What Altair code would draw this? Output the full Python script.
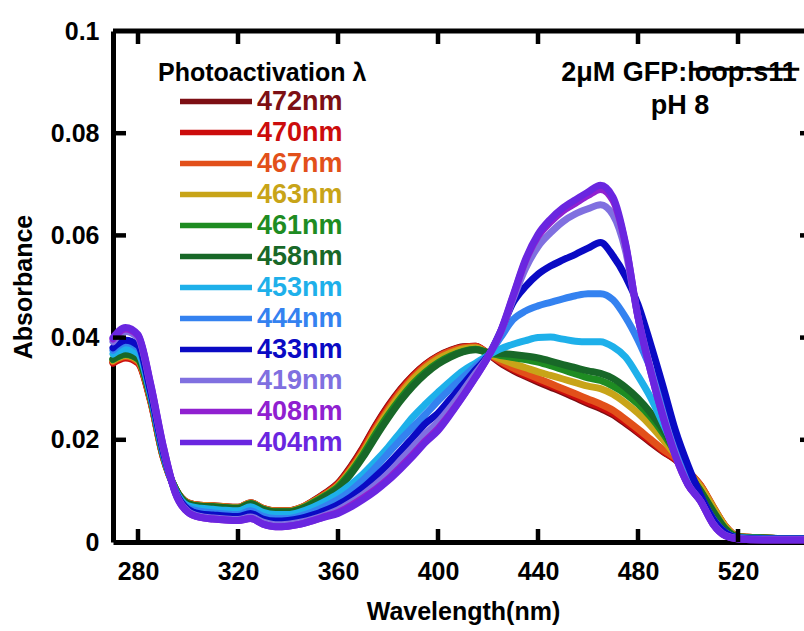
import altair as alt
import pandas as pd

# ---------------- data ----------------
wavelengths = [270, 275, 280, 285, 290, 295, 300, 305, 310, 315,
               320, 325, 330, 335, 340, 345, 350, 355, 360, 365,
               370, 375, 380, 385, 390, 395, 400, 405, 410, 415,
               420, 425, 430, 435, 440, 445, 450, 455, 460, 465,
               470, 475, 480, 485, 490, 495, 500, 505, 510, 515,
               520, 530, 540, 550]

a472 = [0.0352, 0.0362, 0.0352, 0.0278, 0.0168, 0.0104, 0.0077, 0.0072, 0.0071, 0.0069,
        0.0068, 0.0077, 0.0066, 0.0061, 0.0061, 0.0067, 0.0080, 0.0096, 0.0115, 0.0147,
        0.0185, 0.0228, 0.0266, 0.0299, 0.0326, 0.0348, 0.0364, 0.0375, 0.0382, 0.0383,
        0.0368, 0.0350, 0.0336, 0.0324, 0.0313, 0.0303, 0.0293, 0.0282, 0.0271, 0.0261,
        0.0249, 0.0232, 0.0214, 0.0195, 0.0177, 0.0161, 0.0137, 0.0110, 0.0068, 0.0030,
        0.0011, 0.0008, 0.0007, 0.0007]
a470 = [0.0350, 0.0360, 0.0350, 0.0276, 0.0167, 0.0103, 0.0076, 0.0071, 0.0070, 0.0068,
        0.0067, 0.0076, 0.0065, 0.0060, 0.0060, 0.0066, 0.0079, 0.0095, 0.0114, 0.0145,
        0.0183, 0.0226, 0.0264, 0.0297, 0.0325, 0.0347, 0.0363, 0.0374, 0.0381, 0.0383,
        0.0369, 0.0352, 0.0338, 0.0326, 0.0316, 0.0306, 0.0296, 0.0285, 0.0274, 0.0264,
        0.0252, 0.0235, 0.0216, 0.0197, 0.0178, 0.0162, 0.0138, 0.0111, 0.0069, 0.0031,
        0.0011, 0.0008, 0.0007, 0.0007]
a467 = [0.0353, 0.0363, 0.0353, 0.0279, 0.0169, 0.0104, 0.0077, 0.0072, 0.0071, 0.0069,
        0.0068, 0.0077, 0.0066, 0.0061, 0.0061, 0.0067, 0.0079, 0.0094, 0.0112, 0.0142,
        0.0179, 0.0222, 0.0260, 0.0294, 0.0322, 0.0345, 0.0362, 0.0373, 0.0380, 0.0382,
        0.0369, 0.0354, 0.0341, 0.0330, 0.0320, 0.0310, 0.0300, 0.0290, 0.0280, 0.0270,
        0.0258, 0.0240, 0.0221, 0.0201, 0.0181, 0.0164, 0.0139, 0.0111, 0.0070, 0.0031,
        0.0011, 0.0008, 0.0007, 0.0007]
a463 = [0.0355, 0.0365, 0.0356, 0.0281, 0.0170, 0.0104, 0.0076, 0.0071, 0.0070, 0.0068,
        0.0067, 0.0076, 0.0065, 0.0060, 0.0060, 0.0066, 0.0078, 0.0092, 0.0110, 0.0139,
        0.0175, 0.0217, 0.0255, 0.0289, 0.0318, 0.0341, 0.0358, 0.0370, 0.0378, 0.0380,
        0.0369, 0.0358, 0.0349, 0.0341, 0.0333, 0.0326, 0.0319, 0.0312, 0.0305, 0.0300,
        0.0289, 0.0272, 0.0252, 0.0228, 0.0200, 0.0170, 0.0138, 0.0108, 0.0068, 0.0030,
        0.0011, 0.0008, 0.0007, 0.0007]
a461 = [0.0357, 0.0367, 0.0358, 0.0283, 0.0171, 0.0104, 0.0075, 0.0070, 0.0069, 0.0067,
        0.0066, 0.0075, 0.0064, 0.0059, 0.0059, 0.0065, 0.0077, 0.0091, 0.0108, 0.0136,
        0.0171, 0.0211, 0.0248, 0.0281, 0.0310, 0.0333, 0.0351, 0.0364, 0.0373, 0.0377,
        0.0370, 0.0365, 0.0361, 0.0357, 0.0352, 0.0345, 0.0337, 0.0329, 0.0321, 0.0316,
        0.0305, 0.0290, 0.0270, 0.0245, 0.0213, 0.0175, 0.0135, 0.0100, 0.0061, 0.0026,
        0.0010, 0.0008, 0.0007, 0.0007]
a458 = [0.0358, 0.0368, 0.0359, 0.0284, 0.0172, 0.0104, 0.0075, 0.0070, 0.0069, 0.0067,
        0.0066, 0.0075, 0.0064, 0.0059, 0.0059, 0.0064, 0.0075, 0.0089, 0.0105, 0.0132,
        0.0166, 0.0205, 0.0242, 0.0276, 0.0305, 0.0329, 0.0348, 0.0362, 0.0372, 0.0376,
        0.0371, 0.0369, 0.0367, 0.0364, 0.0360, 0.0354, 0.0347, 0.0341, 0.0335, 0.0330,
        0.0320, 0.0303, 0.0281, 0.0253, 0.0220, 0.0178, 0.0137, 0.0100, 0.0060, 0.0025,
        0.0010, 0.0008, 0.0007, 0.0007]
a453 = [0.0368, 0.0378, 0.0369, 0.0288, 0.0174, 0.0101, 0.0071, 0.0066, 0.0064, 0.0062,
        0.0061, 0.0069, 0.0058, 0.0054, 0.0054, 0.0059, 0.0068, 0.0080, 0.0094, 0.0112,
        0.0133, 0.0158, 0.0185, 0.0215, 0.0245, 0.0270, 0.0293, 0.0315, 0.0335, 0.0350,
        0.0365, 0.0378, 0.0387, 0.0394, 0.0400, 0.0401, 0.0397, 0.0393, 0.0392, 0.0392,
        0.0382, 0.0362, 0.0325, 0.0283, 0.0232, 0.0178, 0.0128, 0.0085, 0.0045, 0.0018,
        0.0009, 0.0007, 0.0006, 0.0006]
a444 = [0.0375, 0.0390, 0.0380, 0.0292, 0.0177, 0.0099, 0.0067, 0.0060, 0.0057, 0.0055,
        0.0054, 0.0061, 0.0050, 0.0046, 0.0046, 0.0051, 0.0059, 0.0070, 0.0083, 0.0100,
        0.0121, 0.0146, 0.0173, 0.0200, 0.0225, 0.0250, 0.0276, 0.0300, 0.0322, 0.0344,
        0.0365, 0.0400, 0.0435, 0.0452, 0.0462, 0.0469, 0.0476, 0.0482, 0.0486, 0.0486,
        0.0474, 0.0440, 0.0395, 0.0340, 0.0278, 0.0205, 0.0140, 0.0090, 0.0045, 0.0018,
        0.0008, 0.0006, 0.0006, 0.0006]
a433 = [0.0380, 0.0395, 0.0385, 0.0295, 0.0179, 0.0098, 0.0064, 0.0055, 0.0053, 0.0051,
        0.0050, 0.0056, 0.0045, 0.0041, 0.0042, 0.0046, 0.0053, 0.0062, 0.0073, 0.0088,
        0.0106, 0.0128, 0.0152, 0.0178, 0.0205, 0.0232, 0.0252, 0.0280, 0.0308, 0.0337,
        0.0364, 0.0412, 0.0468, 0.0500, 0.0524, 0.0540, 0.0552, 0.0563, 0.0575, 0.0586,
        0.0560, 0.0520, 0.0465, 0.0388, 0.0305, 0.0218, 0.0150, 0.0092, 0.0045, 0.0018,
        0.0008, 0.0006, 0.0006, 0.0006]
a419 = [0.0392, 0.0412, 0.0400, 0.0306, 0.0186, 0.0096, 0.0060, 0.0050, 0.0047, 0.0045,
        0.0044, 0.0049, 0.0039, 0.0034, 0.0035, 0.0039, 0.0045, 0.0053, 0.0063, 0.0077,
        0.0093, 0.0112, 0.0134, 0.0160, 0.0186, 0.0212, 0.0235, 0.0264, 0.0296, 0.0330,
        0.0363, 0.0410, 0.0475, 0.0535, 0.0578, 0.0605, 0.0627, 0.0642, 0.0652, 0.0660,
        0.0640, 0.0570, 0.0440, 0.0340, 0.0250, 0.0172, 0.0113, 0.0080, 0.0036, 0.0013,
        0.0007, 0.0005, 0.0005, 0.0005]
a408 = [0.0397, 0.0417, 0.0404, 0.0309, 0.0189, 0.0095, 0.0058, 0.0048, 0.0045, 0.0043,
        0.0042, 0.0046, 0.0035, 0.0030, 0.0031, 0.0035, 0.0042, 0.0050, 0.0058, 0.0071,
        0.0086, 0.0103, 0.0123, 0.0147, 0.0172, 0.0198, 0.0222, 0.0252, 0.0286, 0.0323,
        0.0362, 0.0410, 0.0480, 0.0550, 0.0598, 0.0626, 0.0648, 0.0663, 0.0678, 0.0690,
        0.0668, 0.0582, 0.0440, 0.0335, 0.0245, 0.0168, 0.0112, 0.0080, 0.0035, 0.0012,
        0.0006, 0.0004, 0.0004, 0.0004]
a404 = [0.0400, 0.0420, 0.0406, 0.0311, 0.0190, 0.0095, 0.0058, 0.0048, 0.0045, 0.0043,
        0.0042, 0.0046, 0.0035, 0.0030, 0.0031, 0.0035, 0.0042, 0.0049, 0.0056, 0.0068,
        0.0083, 0.0100, 0.0120, 0.0143, 0.0168, 0.0195, 0.0218, 0.0250, 0.0285, 0.0322,
        0.0362, 0.0412, 0.0482, 0.0553, 0.0602, 0.0632, 0.0654, 0.0670, 0.0685, 0.0698,
        0.0675, 0.0585, 0.0440, 0.0335, 0.0245, 0.0168, 0.0112, 0.0080, 0.0035, 0.0012,
        0.0006, 0.0004, 0.0004, 0.0004]

series_labels = ["472nm", "470nm", "467nm", "463nm", "461nm", "458nm",
                 "453nm", "444nm", "433nm", "419nm", "408nm", "404nm"]
series_colors = ["#7d0f14", "#cc0c0c", "#e2501a", "#c8a418", "#1e8c22", "#186828",
                 "#1eb0ea", "#3482f0", "#0a0ac4", "#8070e0", "#9020d0", "#6a26e0"]
series_values = [a472, a470, a467, a463, a461, a458, a453, a444, a433, a419, a408, a404]

x_ticks = [280, 320, 360, 400, 440, 480, 520]
y_ticks = [0.02, 0.04, 0.06, 0.08]
y_label_values = [0, 0.02, 0.04, 0.06, 0.08, 0.1]

legend_title = "Photoactivation \u03bb"
sample_text = ["2\u03bcM GFP:loop:s11", "pH 8"]

# annotation anchors (data coordinates)
legend_title_anchor = (288, 0.0917)
sample_anchors = [(496.4, 0.0918), (496.8, 0.0853)]
strike_span = (500.5, 544.5, 0.0925)

# ---------------- build ----------------
rows = []
for lab, vals in zip(series_labels, series_values):
    for w, v in zip(wavelengths, vals):
        rows.append({"series": lab, "wavelength": w, "absorbance": v})
df = pd.DataFrame(rows)

FONT = "Liberation Sans"
H = 511
XR = 700

xscale = alt.Scale(domain=[270, 550], range=[0, XR], nice=False, zero=False)
yscale = alt.Scale(domain=[0, 0.1], nice=False, zero=False)

lines = alt.Chart(df).mark_line(
    strokeWidth=7, interpolate="monotone", strokeJoin="round", strokeCap="round"
).encode(
    x=alt.X("wavelength:Q", scale=xscale,
            axis=alt.Axis(values=x_ticks, ticks=False, grid=False, domain=True,
                          domainColor="black", domainWidth=5,
                          labelFont=FONT, labelFontSize=25, labelFontWeight="bold",
                          labelColor="black", labelPadding=17, labelFlush=False,
                          title="Wavelength(nm)", titleFont=FONT, titleFontSize=25,
                          titleFontWeight="bold", titleColor="black", titlePadding=15)),
    y=alt.Y("absorbance:Q", scale=yscale,
            axis=alt.Axis(values=y_label_values, format="~g", ticks=False, grid=False,
                          domain=True, domainColor="black", domainWidth=5,
                          labelFont=FONT, labelFontSize=25, labelFontWeight="bold",
                          labelColor="black", labelPadding=14, labelFlush=False,
                          title="Absorbance", titleFont=FONT, titleFontSize=25,
                          titleFontWeight="bold", titleColor="black", titlePadding=14)),
    color=alt.Color("series:N",
                    scale=alt.Scale(domain=series_labels, range=series_colors),
                    legend=alt.Legend(orient="none", legendX=64, legendY=58, title=None,
                                      symbolType="stroke", symbolSize=5184,
                                      symbolStrokeWidth=5.5, labelFont=FONT,
                                      labelFontSize=27, labelFontWeight="bold",
                                      labelColor={"expr": "scale('color', datum.value)"},
                                      labelOffset=2, clipHeight=25, rowPadding=3,
                                      padding=0, labelLimit=300)),
)

one = pd.DataFrame({"k": [0]})
top_line = alt.Chart(one).mark_rule(strokeWidth=5, color="black").encode(
    x=alt.value(0), x2=alt.value(XR), y=alt.value(0))

xt = pd.DataFrame({"wavelength": x_ticks})
yt = pd.DataFrame({"absorbance": y_ticks})
TK = 13
bottom_ticks = alt.Chart(xt).mark_rule(strokeWidth=4.5, color="black").encode(
    x="wavelength:Q", y=alt.value(H), y2=alt.value(H - TK))
top_ticks = alt.Chart(xt).mark_rule(strokeWidth=4.5, color="black").encode(
    x="wavelength:Q", y=alt.value(0), y2=alt.value(TK))
left_ticks = alt.Chart(yt).mark_rule(strokeWidth=4.5, color="black").encode(
    y="absorbance:Q", x=alt.value(0), x2=alt.value(TK))
right_ticks = alt.Chart(yt).mark_rule(strokeWidth=4.5, color="black").encode(
    y="absorbance:Q", x=alt.value(XR - TK), x2=alt.value(XR))

lt = pd.DataFrame({"wavelength": [legend_title_anchor[0]],
                   "absorbance": [legend_title_anchor[1]],
                   "text": [legend_title]})
legend_title_layer = alt.Chart(lt).mark_text(
    align="left", baseline="middle", font=FONT, fontSize=25, fontWeight="bold", color="black"
).encode(x="wavelength:Q", y="absorbance:Q", text="text:N")

st = pd.DataFrame({"wavelength": [a[0] for a in sample_anchors],
                   "absorbance": [a[1] for a in sample_anchors],
                   "text": sample_text})
sample_layer = alt.Chart(st).mark_text(
    align="center", baseline="middle", font=FONT, fontSize=27, fontWeight="bold", color="black"
).encode(x="wavelength:Q", y="absorbance:Q", text="text:N")

sk = pd.DataFrame({"wavelength": [strike_span[0]], "w2": [strike_span[1]],
                   "absorbance": [strike_span[2]]})
strike_layer = alt.Chart(sk).mark_rule(strokeWidth=3, color="black").encode(
    x="wavelength:Q", x2="w2:Q", y="absorbance:Q")

chart = alt.layer(
    lines, top_line, bottom_ticks, top_ticks, left_ticks, right_ticks,
    legend_title_layer, sample_layer, strike_layer
).properties(
    width=691, height=H,
    autosize=alt.AutoSizeParams(type="none"),
    padding={"left": 113, "top": 31, "right": 0, "bottom": 84},
    background="white",
).configure_view(stroke=None)

chart.save("out.html", embed_options={"renderer": "svg", "actions": False})
